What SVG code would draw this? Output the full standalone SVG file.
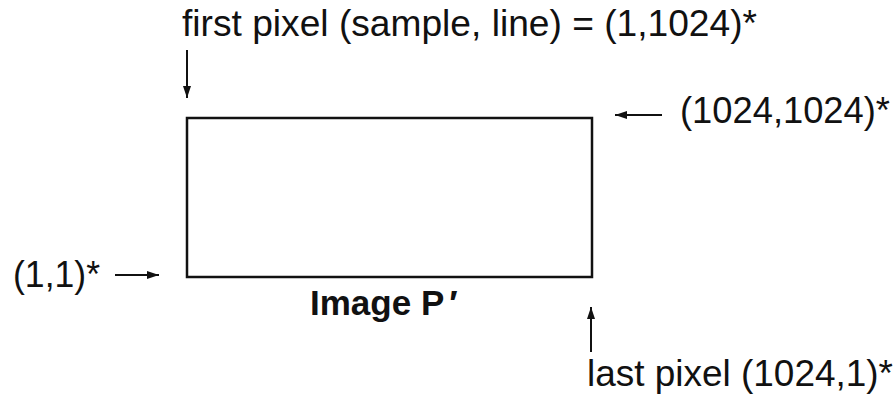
<svg xmlns="http://www.w3.org/2000/svg" width="896" height="399" viewBox="0 0 896 399">
<style>
.t{font-family:"Liberation Sans",Arial,sans-serif;font-size:36px;fill:#111}
.b{font-family:"Liberation Sans",Arial,sans-serif;font-size:35px;font-weight:bold;fill:#111}
.a{stroke:#111;stroke-width:2;fill:none;marker-end:url(#h)}
</style>
<defs>
<marker id="h" viewBox="0 0 12 8" refX="12" refY="4" markerWidth="12" markerHeight="8" markerUnits="userSpaceOnUse" orient="auto">
<path d="M0,0 L12,4 L0,8 Z" fill="#111"/>
</marker>
</defs>
<rect width="896" height="399" fill="#fff"/>
<g id="image-p">
<rect x="187" y="118" width="405" height="159" fill="none" stroke="#111" stroke-width="2.5"/>
<text class="b" x="310" y="315">Image P<tspan dx="5">′</tspan></text>
</g>
<g id="label-first">
<text class="t" x="182" y="36" textLength="575" lengthAdjust="spacingAndGlyphs">first pixel (sample, line) = (1,1024)*</text>
</g>
<g id="label-topright">
<text class="t" x="680" y="123" textLength="210" lengthAdjust="spacingAndGlyphs">(1024,1024)*</text>
</g>
<g id="label-origin">
<text class="t" x="13" y="287" textLength="87" lengthAdjust="spacingAndGlyphs">(1,1)*</text>
</g>
<g id="label-last">
<text class="t" x="587" y="386" textLength="306" lengthAdjust="spacingAndGlyphs">last pixel (1024,1)*</text>
</g>
<g id="connectors">
<line class="a" x1="187" y1="50" x2="187" y2="98"/>
<line class="a" x1="662" y1="115" x2="615" y2="115"/>
<line class="a" x1="115" y1="275" x2="159" y2="275"/>
<line class="a" x1="591" y1="352" x2="591" y2="307"/>
</g>
</svg>
